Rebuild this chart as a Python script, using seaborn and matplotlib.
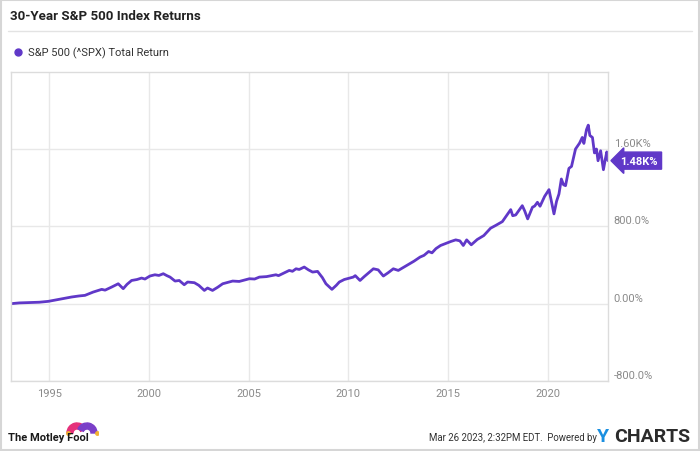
import matplotlib
matplotlib.use("Agg")
import matplotlib.pyplot as plt
import matplotlib.transforms as mtransforms
from matplotlib.patches import Rectangle, Wedge
from matplotlib.lines import Line2D
from matplotlib.ticker import MultipleLocator, FixedLocator, FixedFormatter
import seaborn as sns

# S&P 500 total return (%)
years = [1993.08, 1993.5, 1994.0, 1994.5, 1994.95, 1995.5, 1996.12, 1996.5, 1996.79, 1997.2,
         1997.63, 1997.8, 1998.13, 1998.46, 1998.71, 1998.9, 1999.13, 1999.4, 1999.63, 1999.8,
         2000.05, 2000.3, 2000.5, 2000.72, 2000.9, 2001.06, 2001.31, 2001.52, 2001.77, 2001.94,
         2002.28, 2002.5, 2002.78, 2002.94, 2003.19, 2003.45, 2003.7, 2004.2, 2004.53, 2004.8,
         2005.04, 2005.3, 2005.54, 2005.9, 2006.37, 2006.5, 2006.8, 2007.04, 2007.2, 2007.38,
         2007.54, 2007.79, 2008.0, 2008.21, 2008.46, 2008.7, 2008.88, 2009.18, 2009.4, 2009.55,
         2009.8, 2010.25, 2010.35, 2010.59, 2010.8, 2011.26, 2011.5, 2011.76, 2012.0, 2012.26,
         2012.51, 2012.93, 2013.3, 2013.6, 2013.8, 2014.03, 2014.2, 2014.4, 2014.63, 2014.85,
         2015.14, 2015.39, 2015.6, 2015.77, 2015.94, 2016.17, 2016.47, 2016.8, 2017.14, 2017.4,
         2017.73, 2018.0, 2018.15, 2018.25, 2018.4, 2018.73, 2018.85, 2019.0, 2019.24, 2019.35,
         2019.49, 2019.62, 2019.85, 2020.07, 2020.2, 2020.32, 2020.45, 2020.57, 2020.69, 2020.8,
         2020.9, 2021.07, 2021.2, 2021.4, 2021.6, 2021.74, 2021.82, 2021.95, 2022.04, 2022.12,
         2022.25, 2022.35, 2022.45, 2022.53, 2022.66, 2022.8, 2022.9, 2022.97, 2023.03]
total_return = [0, 8, 12, 15, 24, 45, 69, 80, 86, 120,
                148, 140, 172, 206, 155, 200, 240, 250, 265, 255,
                286, 299, 292, 310, 290, 275, 234, 240, 196, 224,
                217, 190, 137, 162, 137, 170, 206, 234, 230, 245,
                258, 255, 275, 280, 299, 290, 320, 344, 335, 361,
                354, 379, 350, 327, 334, 270, 206, 148, 190, 224,
                250, 275, 290, 240, 280, 361, 350, 286, 320, 361,
                344, 395, 440, 482, 500, 540, 526, 570, 602, 620,
                643, 660, 650, 602, 660, 609, 664, 705, 781, 810,
                849, 930, 973, 910, 918, 1014, 960, 877, 998, 1010,
                1049, 1008, 1110, 1180, 1050, 929, 1060, 1135, 1290, 1230,
                1221, 1400, 1420, 1600, 1660, 1720, 1658, 1800, 1847, 1740,
                1720, 1560, 1600, 1479, 1582, 1386, 1500, 1570, 1480]

y_ticks = [-800, 0, 800, 1600]
y_labels = ["-800.0%", "0.00%", "800.0%", "1.60K%"]
end_label = "1.48K%"

purple = "#6038c8"
grid_c = "#e8e8e8"
text_c = "#8a8a8a"

sns.set_theme(style="white")
plt.rcParams["font.family"] = ["Roboto", "DejaVu Sans"]

fig = plt.figure(figsize=(7, 4.52), dpi=100)
ax = fig.add_axes([11 / 700, 70 / 452, 597 / 700, 309.3 / 452])

sns.lineplot(x=years, y=total_return, ax=ax, color=purple, linewidth=2.0)

ax.set_xlim(1993.08, 2023.03)
ax.set_ylim(-800, 2400)
ax.xaxis.set_major_locator(MultipleLocator(5))
ax.yaxis.set_major_locator(FixedLocator(y_ticks))
ax.yaxis.set_major_formatter(FixedFormatter(y_labels))
ax.yaxis.tick_right()
ax.grid(True, color=grid_c, linewidth=1)
for s in ax.spines.values():
    s.set_color("#dcdcdc")
    s.set_linewidth(1)
ax.tick_params(axis="both", length=0, labelsize=8, labelcolor=text_c)
ax.tick_params(axis="y", pad=4)
ax.tick_params(axis="x", pad=5)
# ycharts puts the value labels just above the gridline
shift = mtransforms.ScaledTranslation(0, 7 / 100, fig.dpi_scale_trans)
for lab in ax.get_yticklabels():
    lab.set_horizontalalignment("left")
    lab.set_transform(lab.get_transform() + shift)
ax.set_xlabel("")
ax.set_ylabel("")

# end-value tag
ax.annotate(end_label, xy=(1, total_return[-1]), xycoords=("axes fraction", "data"),
            xytext=(9, 0), textcoords="offset points", va="center", ha="left",
            fontsize=8, fontweight="bold", color="white",
            bbox=dict(boxstyle="larrow,pad=0.32", fc=purple, ec=purple))

# title, separator, legend
fig.text(10 / 700, 1 - 17 / 452, "30-Year S&P 500 Index Returns", fontsize=9.6,
         fontweight="bold", color="#222222", va="center", ha="left")
fig.add_artist(Line2D([8 / 700, 692 / 700], [1 - 32 / 452, 1 - 32 / 452],
                      transform=fig.transFigure, color="#e3e3e3", lw=1))
fig.add_artist(Line2D([18 / 700], [1 - 53 / 452], transform=fig.transFigure,
                      marker="o", markersize=5, color=purple, lw=0))
fig.text(28 / 700, 1 - 53 / 452, "S&P 500 (^SPX) Total Return", fontsize=8,
         color="#333333", va="center", ha="left")

# footer
fig.text(8 / 700, 1 - 438 / 452, "The Motley Fool", fontsize=8, fontweight="bold",
         color="#1a1a1a", va="center", ha="left")
logo = fig.add_axes([66 / 700, 1 - 437 / 452, 32 / 700, 20 / 452])
logo.set_xlim(0, 32)
logo.set_ylim(0, 20)
logo.set_aspect("equal")
logo.axis("off")
logo.add_patch(Wedge((11, 3), 10, 25, 180, width=6, color="#e5307a"))
logo.add_patch(Wedge((21, 3), 10, 0, 155, width=6, color="#7a3fc8"))
logo.plot([1.5, 30.5], [3, 3], "o", color="#f2b233", markersize=2.5)

fig.text(429 / 700, 1 - 438 / 452, "Mar 26 2023, 2:32PM EDT.  Powered by", fontsize=6.9,
         color="#333333", va="center", ha="left")
fig.text(597 / 700, 1 - 437 / 452, "Y", fontsize=14, fontweight="bold", color="#1a8fe0",
         va="center", ha="left")
fig.text(614 / 700, 1 - 437 / 452, "CHARTS", fontsize=14, fontweight="bold",
         color="#2b2b2b", va="center", ha="left")

fig.add_artist(Rectangle((0.001, 0.002), 0.997, 0.996, transform=fig.transFigure,
                         fill=False, ec="#d6d6d6", lw=1.5))

fig.savefig("out.png", dpi=100)
